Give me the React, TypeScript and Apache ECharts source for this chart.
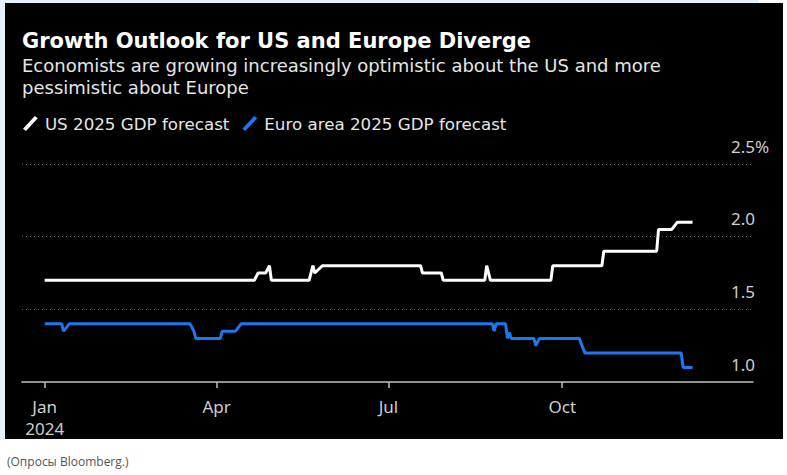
import React, { useEffect, useRef } from "react";
import * as echarts from "echarts";

const usDates = ["2024-01-01","2024-04-21","2024-04-23","2024-04-27","2024-04-29","2024-04-30","2024-05-20","2024-05-22","2024-05-23","2024-05-27","2024-07-18","2024-07-19","2024-07-29","2024-07-30","2024-08-21","2024-08-22","2024-08-24","2024-09-25","2024-09-26","2024-10-22","2024-10-23","2024-11-20","2024-11-21","2024-11-28","2024-12-01","2024-12-09"];
const usValues = [1.7,1.7,1.75,1.75,1.8,1.7,1.7,1.8,1.75,1.8,1.8,1.75,1.75,1.7,1.7,1.8,1.7,1.7,1.8,1.8,1.9,1.9,2.05,2.05,2.1,2.1];

const euDates = ["2024-01-01","2024-01-10","2024-01-11","2024-01-14","2024-03-18","2024-03-20","2024-03-21","2024-04-03","2024-04-04","2024-04-11","2024-04-14","2024-08-25","2024-08-26","2024-08-27","2024-09-01","2024-09-02","2024-09-03","2024-09-04","2024-09-16","2024-09-17","2024-09-19","2024-10-10","2024-10-13","2024-12-03","2024-12-04","2024-12-09"];
const euValues = [1.4,1.4,1.35,1.4,1.4,1.35,1.3,1.3,1.35,1.35,1.4,1.4,1.35,1.4,1.4,1.3,1.34,1.3,1.3,1.25,1.3,1.3,1.2,1.2,1.1,1.1];

const tickDates = ["2024-01-01", "2024-04-01", "2024-07-01", "2024-10-01"];
const tickLabels = ["Jan\n2024", "Apr", "Jul", "Oct"];
const yTicks = [1.0, 1.5, 2.0, 2.5];
const yTickLabels = ["1.0", "1.5", "2.0", "2.5%"];

const seriesNames = ["US 2025 GDP forecast", "Euro area 2025 GDP forecast"];
const seriesColors = ["#ffffff", "#1a78f2"];

const titleText = "Growth Outlook for US and Europe Diverge";
const subtitleText = "Economists are growing increasingly optimistic about the US and more\npessimistic about Europe";
const captionText = "(Опросы Bloomberg.)";

const ts = (s: string) => {
  const [y, m, d] = s.split("-").map(Number);
  return Date.UTC(y, m - 1, d);
};

export default function App() {
  const ref = useRef<HTMLDivElement>(null);
  useEffect(() => {
    if (!ref.current) return;
    const chart = echarts.init(ref.current, undefined, { renderer: "svg" });
    const tickTs = tickDates.map(ts);
    const legendIcon = "path://M0,13 L12,0 L15,2.2 L3,15.2 Z";
    chart.setOption({
      animation: false,
      backgroundColor: "transparent",
      title: [
        {
          text: titleText,
          left: 22,
          top: 30,
          padding: 0,
          textStyle: { color: "#ffffff", fontFamily: "DejaVu Sans", fontWeight: "bold", fontSize: 21, lineHeight: 22 },
        },
        {
          text: subtitleText,
          left: 22,
          top: 55,
          padding: 0,
          textStyle: { color: "#e6e6e6", fontFamily: "DejaVu Sans", fontWeight: "normal", fontSize: 18, lineHeight: 21.5 },
        },
      ],
      legend: {
        left: 23,
        top: 115,
        padding: 0,
        itemWidth: 15,
        itemHeight: 15,
        itemGap: 13,
        icon: legendIcon,
        data: seriesNames.map((n, i) => ({ name: n, icon: legendIcon, itemStyle: { color: seriesColors[i] } })),
        textStyle: { color: "#e6e6e6", fontFamily: "DejaVu Sans", fontSize: 16.7, padding: [0, 0, 0, 2] },
        selectedMode: false,
      },
      grid: { left: 22, right: 34, top: 164, bottom: 93, containLabel: false },
      xAxis: {
        type: "value",
        min: ts("2023-12-20"),
        max: ts("2025-01-10"),
        axisLine: { show: true, onZero: false, lineStyle: { color: "#bdbdbd", width: 1.5 } },
        axisTick: { show: true, length: 6, lineStyle: { color: "#bdbdbd", width: 1.5 }, customValues: tickTs },
        axisLabel: {
          customValues: tickTs,
          color: "#cfcfcf",
          fontFamily: "Noto Sans",
          fontSize: 17,
          lineHeight: 22,
          margin: 13,
          formatter: (v: number) => {
            const i = tickTs.indexOf(v);
            return i >= 0 ? tickLabels[i] : "";
          },
        },
        splitLine: { show: false },
      },
      yAxis: {
        type: "value",
        position: "right",
        min: 1.0,
        max: 2.5,
        interval: 0.5,
        axisLine: { show: false },
        axisTick: { show: false },
        splitLine: { show: true, lineStyle: { color: "#6a6a6a", type: [1, 3], width: 1 } },
        axisLabel: {
          color: "#cfcfcf",
          fontFamily: "Noto Sans",
          fontSize: 17,
          lineHeight: 20,
          align: "left",
          verticalAlign: "bottom",
          margin: -22,
          padding: [0, 0, 8, 0],
          showMinLabel: true,
          showMaxLabel: true,
          formatter: (v: number) => {
            const i = yTicks.findIndex((t) => Math.abs(t - v) < 1e-6);
            return i >= 0 ? yTickLabels[i] : "";
          },
        },
      },
      series: [
        {
          name: seriesNames[0],
          type: "line",
          showSymbol: false,
          symbol: "none",
          lineStyle: { color: seriesColors[0], width: 3 },
          itemStyle: { color: seriesColors[0] },
          data: usDates.map((d, i) => [ts(d), usValues[i]]),
          z: 3,
        },
        {
          name: seriesNames[1],
          type: "line",
          showSymbol: false,
          symbol: "none",
          lineStyle: { color: seriesColors[1], width: 3 },
          itemStyle: { color: seriesColors[1] },
          data: euDates.map((d, i) => [ts(d), euValues[i]]),
          z: 3,
        },
      ],
      graphic: [
        {
          type: "text",
          left: 7,
          top: 455,
          style: { text: captionText, fill: "#555555", font: "12px 'Open Sans'" },
        },
      ],
    });
    return () => chart.dispose();
  }, []);

  return (
    <div style={{ position: "absolute", left: 0, top: 0, width: 787, height: 475, background: "#ffffff", overflow: "hidden" }}>
      <div style={{ position: "absolute", left: 0, top: 0, width: 758, height: 3, background: "#e5f1fa" }} />
      <div style={{ position: "absolute", left: 0, top: 0, width: 5, height: 440, background: "#e5f1fa" }} />
      <div style={{ position: "absolute", left: 5, top: 3, width: 778, height: 436, background: "#000000" }} />
      <div ref={ref} style={{ position: "absolute", left: 0, top: 0, width: 787, height: 475 }} />
    </div>
  );
}
